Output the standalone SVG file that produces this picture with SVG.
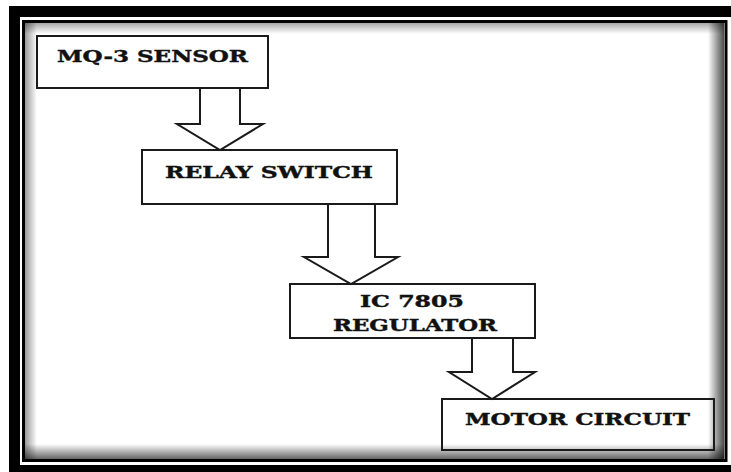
<svg xmlns="http://www.w3.org/2000/svg" width="731" height="472" viewBox="0 0 731 472">
<style>
.box{fill:none;stroke:#1a1a1a;stroke-width:2}
.arr{fill:#fff;stroke:#1a1a1a;stroke-width:2;stroke-linejoin:miter}
.lbl{font-family:"DejaVu Serif","Liberation Serif",serif;font-weight:900;font-size:16px;fill:#111;text-anchor:middle;stroke:#111;stroke-width:0.4}
</style>
<defs>
<linearGradient id="gl" x1="0" y1="0" x2="1" y2="0"><stop offset="0" stop-color="#000" stop-opacity="0.4"/><stop offset="1" stop-color="#000" stop-opacity="0"/></linearGradient>
<linearGradient id="gr" x1="0" y1="0" x2="1" y2="0"><stop offset="0" stop-color="#000" stop-opacity="0"/><stop offset="1" stop-color="#000" stop-opacity="0.7"/></linearGradient>
<linearGradient id="gt" x1="0" y1="0" x2="0" y2="1"><stop offset="0" stop-color="#000" stop-opacity="0.35"/><stop offset="1" stop-color="#000" stop-opacity="0"/></linearGradient>
<linearGradient id="gb" x1="0" y1="0" x2="0" y2="1"><stop offset="0" stop-color="#000" stop-opacity="0"/><stop offset="1" stop-color="#000" stop-opacity="0.6"/></linearGradient>
</defs>
<g id="frame">
<rect x="0" y="0" width="731" height="472" fill="#fff"/>
<rect x="9" y="6" width="730" height="470" fill="#000"/>
<rect x="20" y="17" width="720" height="448" fill="#fff"/>
<rect x="25" y="23" width="699" height="436" fill="#fff"/>
<rect x="25" y="23" width="12" height="436" fill="url(#gl)"/>
<rect x="25" y="23" width="699" height="11" fill="url(#gt)"/>
<rect x="708" y="23" width="16" height="436" fill="url(#gr)"/>
<rect x="25" y="444" width="699" height="15" fill="url(#gb)"/>
<rect x="23.5" y="21.5" width="702.5" height="439" fill="none" stroke="#000" stroke-width="3"/>
</g>
<g id="connectors">
<path class="arr" d="M200,88 V124 H177 L220,150 L263,124 H240 V88"/>
<path class="arr" d="M328,204 V257 H304 L351,284 L398,257 H375 V204"/>
<path class="arr" d="M472,338 V372 H449 L492,399 L535,372 H513 V338"/>
</g>
<g id="mq3">
<rect class="box" x="37" y="36" width="231" height="52"/>
<text class="lbl" x="152.5" y="62" textLength="191" lengthAdjust="spacingAndGlyphs">MQ-3 SENSOR</text>
</g>
<g id="relay">
<rect class="box" x="142" y="150" width="255" height="54"/>
<text class="lbl" x="269" y="178" textLength="208" lengthAdjust="spacingAndGlyphs">RELAY SWITCH</text>
</g>
<g id="ic7805">
<rect class="box" x="290" y="284" width="245" height="54"/>
<text class="lbl" x="412" y="307" textLength="104" lengthAdjust="spacingAndGlyphs">IC 7805</text>
<text class="lbl" x="415" y="331" textLength="164" lengthAdjust="spacingAndGlyphs">REGULATOR</text>
</g>
<g id="motor">
<rect class="box" x="442" y="399" width="272" height="51"/>
<text class="lbl" x="577.5" y="425" textLength="225" lengthAdjust="spacingAndGlyphs">MOTOR CIRCUIT</text>
</g>
</svg>
